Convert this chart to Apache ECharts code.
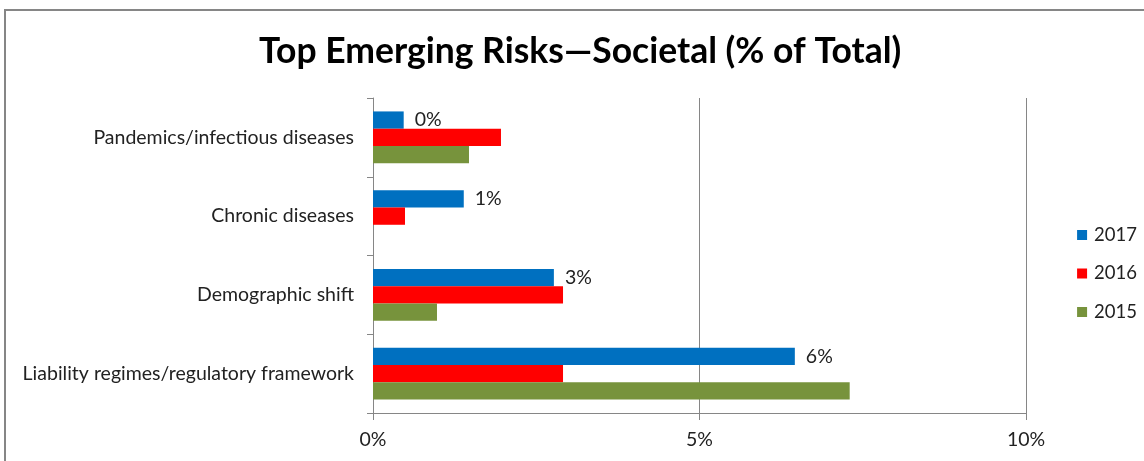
<!DOCTYPE html>
<html>
<head>
<meta charset="utf-8">
<script src="https://cdn.jsdelivr.net/npm/echarts@6/dist/echarts.min.js"></script>
<style>
html,body{margin:0;padding:0;background:#fff;}
#chart{width:1144px;height:461px;}
</style>
</head>
<body>
<div id="chart"></div>
<script>
const categories = ["Pandemics/infectious diseases", "Chronic diseases", "Demographic shift", "Liability regimes/regulatory framework"];
const seriesNames = ["2017", "2016", "2015"];
const values2017 = [0.47, 1.39, 2.77, 6.46];
const values2016 = [1.96, 0.49, 2.91, 2.91];
const values2015 = [1.47, 0, 0.98, 7.30];
const xTicks = [0, 5, 10];
const colors = ["#0070C0", "#FF0000", "#77933C"];

const FONT = "Lato";
const FS = 19.5;
const chart = echarts.init(document.getElementById('chart'), null, {renderer: 'canvas'});
const seriesData = [values2017, values2016, values2015];
chart.setOption({
  animation: false,
  textStyle: {fontFamily: FONT},
  title: {
    text: "Top Emerging Risks\u2014Societal (% of Total)",
    left: 254, top: 29,
    textStyle: {fontFamily: FONT, fontWeight: 'bold', fontSize: 35.5, color: '#000'}
  },
  graphic: [{
    type: 'rect', silent: true, z: -1,
    shape: {x: 5, y: 10, width: 1300, height: 600},
    style: {fill: 'none', stroke: '#868686', lineWidth: 2}
  }],
  legend: {
    orient: 'vertical', right: 2, top: 220,
    itemWidth: 10, itemHeight: 10, itemGap: 18.5,
    icon: 'rect',
    data: seriesNames,
    textStyle: {fontFamily: FONT, fontSize: 18.5, lineHeight: 20, color: '#222', padding: [0, 0, 0, 2]}
  },
  grid: {left: 373, right: 118, top: 98, bottom: 48, containLabel: false},
  xAxis: {
    type: 'value', min: xTicks[0], max: xTicks[xTicks.length-1], interval: 5,
    axisLine: {show: true, lineStyle: {color: '#868686'}},
    axisTick: {show: true, length: 7, lineStyle: {color: '#868686'}},
    splitLine: {show: true, lineStyle: {color: '#868686', width: 1}},
    axisLabel: {formatter: '{value}%', fontFamily: FONT, fontSize: FS, color: '#222', margin: 17}
  },
  yAxis: {
    type: 'category', inverse: true, data: categories,
    axisLine: {show: true, lineStyle: {color: '#868686'}},
    axisTick: {show: true, length: 6, lineStyle: {color: '#868686'}},
    axisLabel: {fontFamily: FONT, fontSize: FS, color: '#222', margin: 19}
  },
  series: seriesNames.map((n, i) => ({
    name: n, type: 'bar', data: seriesData[i],
    barWidth: 17.3, barGap: '0%',
    itemStyle: {color: colors[i]},
    label: i === 0 ? {
      show: true, position: 'right', distance: 11,
      formatter: p => Math.round(p.value) + '%',
      fontFamily: FONT, fontSize: FS, color: '#222'
    } : {show: false}
  }))
});
</script>
</body>
</html>
